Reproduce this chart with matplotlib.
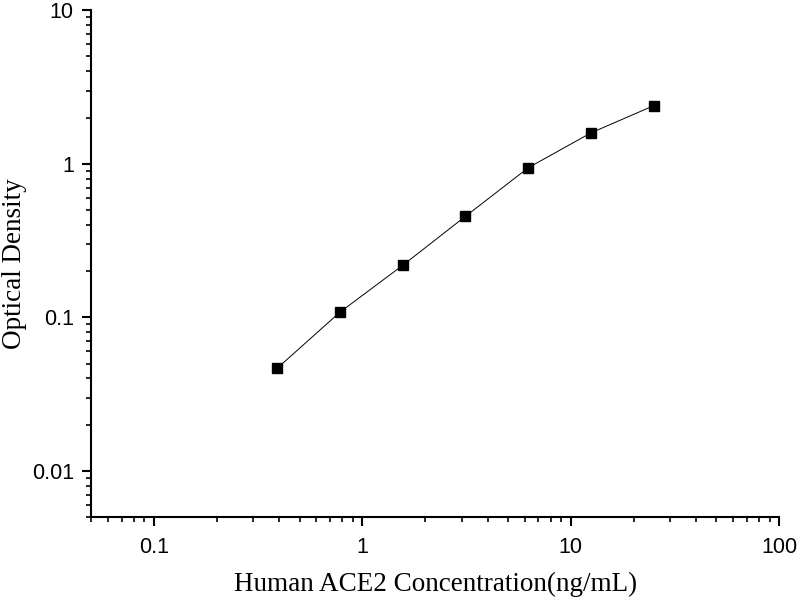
import matplotlib
matplotlib.use('Agg')
from matplotlib import pyplot as plt
from matplotlib.ticker import LogLocator, NullFormatter, FixedLocator, FixedFormatter

conc = [0.39, 0.78, 1.56, 3.125, 6.25, 12.5, 25]
od = [0.0466, 0.108, 0.218, 0.455, 0.942, 1.59, 2.39]

x_ticks = [0.1, 1, 10, 100]
x_labels = ['0.1', '1', '10', '100']
y_ticks = [0.01, 0.1, 1, 10]
y_labels = ['0.01', '0.1', '1', '10']

fig = plt.figure(figsize=(8, 6), dpi=100)
ax = fig.add_axes([0.114, 0.138, 0.86, 0.845])

ax.plot(conc, od, color='black', linewidth=0.7, marker='s', markersize=7,
        markerfacecolor='black', markeredgecolor='black')

ax.set_xscale('log')
ax.set_yscale('log')
ax.set_xlim(0.05, 100)
ax.set_ylim(0.005, 10)

ax.xaxis.set_major_locator(FixedLocator(x_ticks))
ax.xaxis.set_major_formatter(FixedFormatter(x_labels))
ax.yaxis.set_major_locator(FixedLocator(y_ticks))
ax.yaxis.set_major_formatter(FixedFormatter(y_labels))
ax.xaxis.set_minor_locator(LogLocator(base=10, subs=range(2, 10), numticks=20))
ax.yaxis.set_minor_locator(LogLocator(base=10, subs=range(2, 10), numticks=20))
ax.xaxis.set_minor_formatter(NullFormatter())
ax.yaxis.set_minor_formatter(NullFormatter())

for side in ['top', 'right']:
    ax.spines[side].set_visible(False)
for side in ['left', 'bottom']:
    ax.spines[side].set_linewidth(1.5)

ax.tick_params(which='major', direction='out', length=6.5, width=1.5,
               labelsize=15.5)
ax.tick_params(axis='x', which='major', pad=8)
ax.tick_params(axis='y', which='major', pad=6)
ax.tick_params(which='minor', direction='out', length=3.6, width=1.2)
for lab in ax.get_xticklabels() + ax.get_yticklabels():
    lab.set_fontfamily('Liberation Sans')

ax.set_xlabel('Human ACE2 Concentration(ng/mL)', fontfamily='Liberation Serif',
              fontsize=19.5, labelpad=10)
ax.set_ylabel('Optical Density', fontfamily='Liberation Serif', fontsize=19.5)
ax.yaxis.set_label_coords(-0.093, 0.5)

fig.savefig('out.png', dpi=100)
